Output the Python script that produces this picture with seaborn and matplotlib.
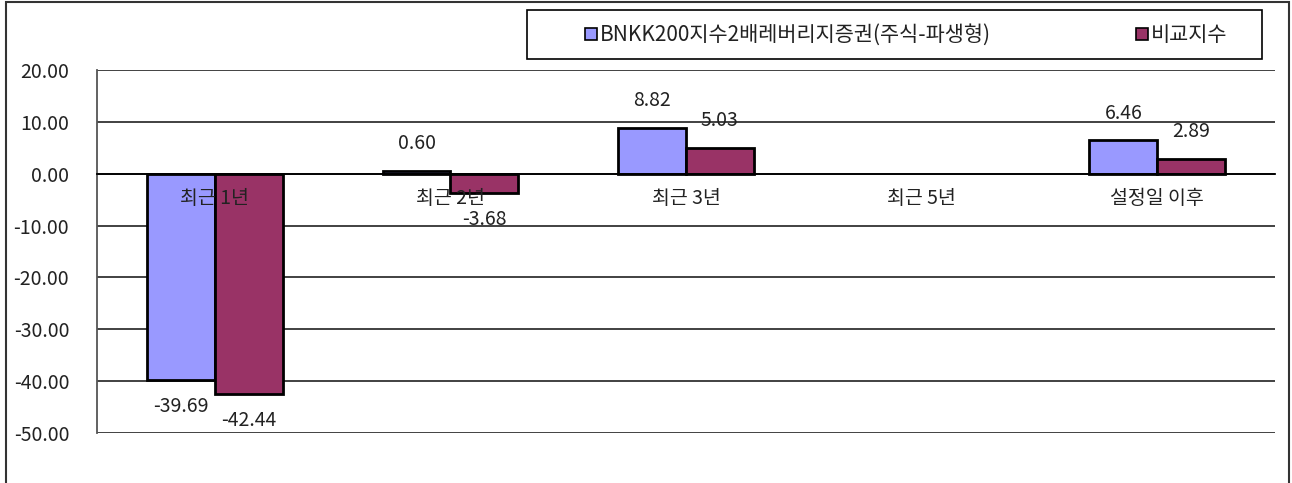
import numpy as np
import pandas as pd
import matplotlib
matplotlib.use("Agg")
import matplotlib.pyplot as plt
from matplotlib.lines import Line2D
from matplotlib.patches import Rectangle
from matplotlib.transforms import offset_copy
import seaborn as sns

# data
categories = ["최근 1년", "최근 2년", "최근 3년", "최근 5년", "설정일 이후"]
fund_name = "BNKK200지수2배레버리지증권(주식-파생형)"
bench_name = "비교지수"
fund_values = [-39.69, 0.60, 8.82, np.nan, 6.46]
bench_values = [-42.44, -3.68, 5.03, np.nan, 2.89]
y_ticks = [20, 10, 0, -10, -20, -30, -40, -50]

colors = ["#9999FF", "#993366"]
txt_color = "#222222"

df = pd.DataFrame({
    "category": categories * 2,
    "series": [fund_name] * len(categories) + [bench_name] * len(categories),
    "value": fund_values + bench_values,
})

sns.set_theme(style="white")
plt.rcParams['font.family'] = ['Noto Sans CJK KR', 'DejaVu Sans']

fig = plt.figure(figsize=(12.92, 4.83), dpi=100)
ax = fig.add_axes([97 / 1292, 1 - 433 / 483, (1275 - 97) / 1292, (433 - 70) / 483])

sns.barplot(data=df, x="category", y="value", hue="series", order=categories,
            hue_order=[fund_name, bench_name], palette=colors, width=0.575,
            edgecolor="black", linewidth=2, saturation=1, legend=False, ax=ax)

ax.set_ylim(-50, 20)
ax.set_xlim(-0.5, len(categories) - 0.5)
ax.set_yticks(y_ticks)
ax.set_yticklabels([f"{v:.2f}" for v in y_ticks], fontsize=14, color=txt_color)
ax.yaxis.grid(True, color="#333333", linewidth=1.3)
ax.set_axisbelow(True)
ax.tick_params(axis="y", length=0, pad=20)

# category axis sits on the zero line
ax.spines['bottom'].set_position(('data', 0))
ax.spines['bottom'].set_color("black")
ax.spines['bottom'].set_linewidth(1.3)
ax.spines['bottom'].set_zorder(3)
ax.spines['left'].set_color("#555555")
ax.spines['left'].set_linewidth(1.3)
ax.spines['right'].set_visible(False)
ax.spines['top'].set_visible(False)
ax.set_xticks(range(len(categories)))
ax.set_xticklabels([])
ax.set_xticks(np.arange(0.5, len(categories) - 1, 1.0), minor=True)
ax.tick_params(axis="x", which="major", length=0)
ax.tick_params(axis="x", which="minor", length=5, direction="in", width=1, color="#333333")
ax.set_xlabel("")
ax.set_ylabel("")

# category names are written over the bars, just under the zero line
below = offset_copy(ax.transData, fig=fig, x=0, y=-25, units="dots")
for i, name in enumerate(categories):
    ax.text(i, 0, name, transform=below, ha="center", va="center",
            fontsize=14, color=txt_color, zorder=5)

for cont in ax.containers:
    ax.bar_label(cont, fmt="%.2f", padding=12, fontsize=14, color=txt_color, zorder=5)

# legend box
fig.patches.append(Rectangle((527 / 1292, 1 - 59 / 483), (1262 - 527) / 1292, 49 / 483,
                             transform=fig.transFigure, fill=True, facecolor="white",
                             edgecolor="black", linewidth=1.2))
handles = [Line2D([0], [0], marker="s", linestyle="none", markersize=8,
                  markerfacecolor=c, markeredgecolor="black", markeredgewidth=1.2)
           for c in colors]
leg = fig.legend(handles, [fund_name, bench_name], loc="center",
                 bbox_to_anchor=(905 / 1292, 1 - 35 / 483), ncol=2, fontsize=15,
                 frameon=False, handletextpad=0.05, handlelength=0.8,
                 columnspacing=6.85, borderaxespad=0)
for t in leg.get_texts():
    t.set_color(txt_color)

# outer frame of the picture
fig.patches.append(Rectangle((6 / 1292, -0.1), (1289 - 6) / 1292, 1.1 - 2 / 483,
                             transform=fig.transFigure, fill=False,
                             edgecolor="#333333", linewidth=1.5, clip_on=False))

fig.savefig("out.png", dpi=100)
